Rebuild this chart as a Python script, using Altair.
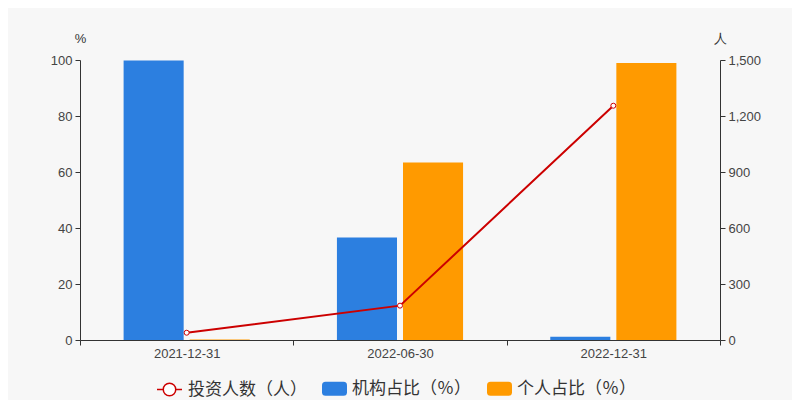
import altair as alt
import pandas as pd

dates = ["2021-12-31", "2022-06-30", "2022-12-31"]
inst_pct = [99.8, 36.6, 1.2]
indiv_pct = [0.2, 63.4, 98.9]
investors = [39, 184, 1255]

s_inst = "机构占比（％）"
s_indiv = "个人占比（％）"
s_line = "投资人数（人）"

blue = "#2c7fe0"
orange = "#ff9a00"
red = "#cc0000"

bar_df = pd.DataFrame({
    "date": dates * 2,
    "series": [s_inst] * 3 + [s_indiv] * 3,
    "value": inst_pct + indiv_pct,
})
line_df = pd.DataFrame({"date": dates, "count": investors, "series": [s_line] * 3})

rect_path = ("M-0.72,-0.56 L0.72,-0.56 Q1,-0.56 1,-0.28 L1,0.28 Q1,0.56 0.72,0.56 "
             "L-0.72,0.56 Q-1,0.56 -1,0.28 L-1,-0.28 Q-1,-0.56 -0.72,-0.56 Z")
line_path = ("M-1,0 L-0.5,0 M0.5,0 L1,0 M0.5,0 A0.5,0.5 0 1,1 -0.5,0 "
             "A0.5,0.5 0 1,1 0.5,0")

x_enc = alt.X(
    "date:N",
    scale=alt.Scale(domain=dates, paddingInner=0, paddingOuter=0),
    axis=alt.Axis(title=None, labelAngle=0, tickBand="extent", tickSize=5,
                  labelPadding=2, labelFontSize=13),
)

bars = alt.Chart(bar_df).mark_bar().encode(
    x=x_enc,
    xOffset=alt.XOffset("series:N",
                        scale=alt.Scale(domain=[s_inst, s_indiv],
                                        paddingInner=0.0909, paddingOuter=0.66)),
    y=alt.Y("value:Q", scale=alt.Scale(domain=[0, 100], nice=False),
            axis=alt.Axis(title="%", values=[0, 20, 40, 60, 80, 100], orient="left",
                          grid=False, titleAngle=0, titleX=0, titleY=-22,
                          titleAlign="center", titleBaseline="middle",
                          tickSize=5, labelPadding=3)),
    color=alt.Color("series:N",
                    scale=alt.Scale(domain=[s_inst, s_indiv], range=[blue, orange]),
                    legend=alt.Legend(title=None, orient="none", legendX=242, legendY=316,
                                      direction="horizontal", symbolType=rect_path,
                                      symbolSize=625, symbolStrokeWidth=0,
                                      labelOffset=5, columnPadding=16, padding=0,
                                      labelFont="Noto Sans CJK SC", labelFontSize=17,
                                      labelColor="#333")),
)

line = alt.Chart(line_df).mark_line(
    strokeWidth=2,
    point=alt.OverlayMarkDef(filled=True, fill="white", stroke=red, strokeWidth=1, size=25),
).encode(
    x=alt.X("date:N"),
    y=alt.Y("count:Q", scale=alt.Scale(domain=[0, 1500], nice=False),
            axis=alt.Axis(title="人", values=[0, 300, 600, 900, 1200, 1500], orient="right",
                          grid=False, titleAngle=0, titleX=0, titleY=-22,
                          titleAlign="center", titleBaseline="middle",
                          tickSize=5, labelPadding=3, format=",d")),
    stroke=alt.Stroke("series:N",
                      scale=alt.Scale(domain=[s_line], range=[red]),
                      legend=alt.Legend(title=None, orient="none", legendX=76, legendY=316,
                                        direction="horizontal", symbolType=line_path,
                                        symbolSize=625, symbolStrokeWidth=1.5,
                                        symbolFillColor="white",
                                        labelOffset=5, padding=0,
                                        labelFont="Noto Sans CJK SC", labelFontSize=17,
                                        labelColor="#333")),
)

chart = alt.layer(bars, line).resolve_scale(y="independent").properties(
    width=640, height=280,
    autosize=alt.AutoSizeParams(type="none"),
    padding={"left": 72, "top": 52, "right": 72, "bottom": 60},
    background="#f7f7f7",
).configure_view(stroke=None).configure_axis(
    domainColor="#333", tickColor="#333", labelColor="#444",
    labelFont="Liberation Sans", labelFontSize=13,
    titleFont="Liberation Sans", titleFontSize=13, titleFontWeight="normal",
    titleColor="#333",
)

chart.save("out.html", embed_options={"renderer": "svg", "actions": False})
